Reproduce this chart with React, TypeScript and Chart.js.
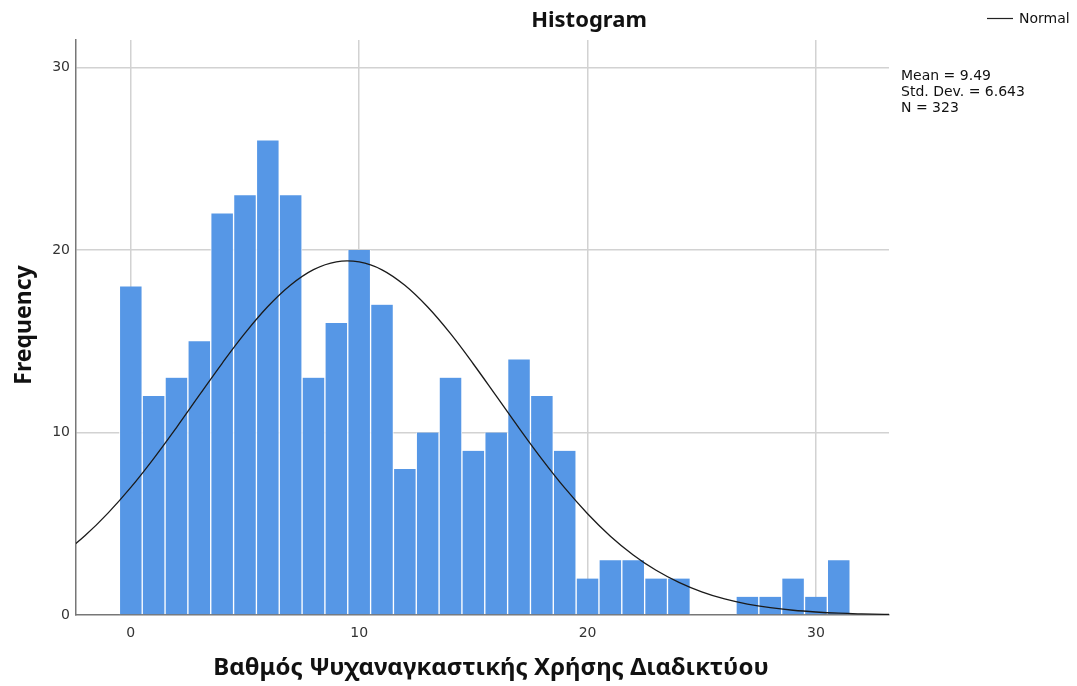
import React, { useEffect, useRef } from "react";
import { Chart, registerables } from "chart.js";

Chart.register(...registerables);

const binCenters = [0,1,2,3,4,5,6,7,8,9,10,11,12,13,14,15,16,17,18,19,20,21,22,23,24,25,26,27,28,29,30,31];
const frequencies = [18,12,13,15,22,23,26,23,13,16,20,17,8,10,13,9,10,14,12,9,2,3,3,2,2,0,0,1,1,2,1,3];

const curveX = [-3,-2,-1,0,1,2,3,4,5,6,7,8,9,10,11,12,13,14,15,16,17,18,19,20,21,22,23,24,25,26,27,28,29,30,31,32,33,34];
const curveY = [3.31,4.35,5.58,6.99,8.57,10.27,12.04,13.79,15.44,16.90,18.08,18.92,19.35,19.34,18.91,18.06,16.87,15.41,13.75,12.00,10.24,8.54,6.96,5.55,4.32,3.29,2.45,1.79,1.27,0.88,0.60,0.40,0.26,0.165,0.10,0.062,0.037,0.021];

const xTicks = [0, 10, 20, 30];
const yTicks = [0, 10, 20, 30];

const chartTitle = "Histogram";
const xTitle = "Βαθμός Ψυχαναγκαστικής Χρήσης Διαδικτύου";
const yTitle = "Frequency";
const legendLabel = "Normal";
const statsLines = ["Mean = 9.49", "Std. Dev. = 6.643", "N = 323"];

export default function App() {
  const ref = useRef<HTMLCanvasElement | null>(null);
  useEffect(() => {
    document.body.style.margin = "0";
    const canvas = ref.current;
    if (!canvas) return;
    const textPlugin = {
      id: "texts",
      afterDraw(chart: any) {
        const ctx = chart.ctx;
        ctx.save();
        ctx.fillStyle = "#111";
        ctx.textAlign = "center";
        ctx.textBaseline = "middle";
        ctx.font = "bold 22px 'Noto Sans'";
        ctx.fillText(chartTitle, 589, 21);
        ctx.font = "bold 24px 'Noto Sans'";
        ctx.fillText(xTitle, 491, 668);
        ctx.font = "bold 23px 'Noto Sans'";
        ctx.save();
        ctx.translate(24, 325);
        ctx.rotate(-Math.PI / 2);
        ctx.fillText(yTitle, 0, 0);
        ctx.restore();
        // legend
        ctx.strokeStyle = "#222";
        ctx.lineWidth = 1.2;
        ctx.beginPath();
        ctx.moveTo(987, 18.5);
        ctx.lineTo(1013, 18.5);
        ctx.stroke();
        ctx.font = "14px 'DejaVu Sans'";
        ctx.textAlign = "left";
        ctx.fillText(legendLabel, 1019, 19);
        statsLines.forEach((s, i) => ctx.fillText(s, 901, 76 + i * 16));
        ctx.restore();
      },
    };
    const chart = new Chart(canvas, {
      type: "bar",
      data: {
        datasets: [
          {
            type: "line",
            data: curveX.map((x, i) => ({ x, y: curveY[i] })),
            borderColor: "#1a1a1a",
            borderWidth: 1.3,
            pointRadius: 0,
            tension: 0.4,
            fill: false,
            order: 0,
          } as any,
          {
            type: "bar",
            data: binCenters.map((x, i) => ({ x, y: frequencies[i] })),
            backgroundColor: "#5697E6",
            borderColor: "rgba(255,255,255,0.85)",
            borderWidth: { left: 1, right: 1, top: 0, bottom: 0 },
            borderSkipped: "bottom",
            barPercentage: 1,
            categoryPercentage: 1,
            order: 1,
          } as any,
        ],
      },
      options: {
        animation: false,
        responsive: false,
        maintainAspectRatio: false,
        layout: { padding: { left: 0, top: 40, right: 1077 - 889, bottom: 0 } },
        plugins: { legend: { display: false }, tooltip: { enabled: false }, title: { display: false } },
        scales: {
          x: {
            type: "linear",
            offset: false,
            min: -2.4,
            max: 33.2,
            afterBuildTicks: (s: any) => { s.ticks = xTicks.map((v) => ({ value: v })); },
            afterFit: (s: any) => { s.height = 686 - 615; },
            ticks: { padding: 10, color: "#333", font: { family: "'DejaVu Sans'", size: 14 } },
            grid: { offset: false, color: "#d2d2d2", lineWidth: 1.5, drawTicks: false },
            border: { color: "#777", width: 1.5 },
          },
          y: {
            type: "linear",
            min: 0,
            max: 31.5,
            afterBuildTicks: (s: any) => { s.ticks = yTicks.map((v) => ({ value: v })); },
            afterFit: (s: any) => { s.width = 76; },
            ticks: { padding: 6, color: "#333", font: { family: "'DejaVu Sans'", size: 14 } },
            grid: { color: (c: any) => (c.tick && c.tick.value === 0 ? "transparent" : "#d2d2d2"), lineWidth: 1.5, drawTicks: false },
            border: { color: "#777", width: 1.5 },
          },
        },
      } as any,
      plugins: [textPlugin],
    });
    return () => chart.destroy();
  }, []);
  return (
    <div style={{ width: 1077, height: 686 }}>
      <canvas ref={ref} width={1077} height={686} style={{ width: 1077, height: 686, display: "block" }} />
    </div>
  );
}
